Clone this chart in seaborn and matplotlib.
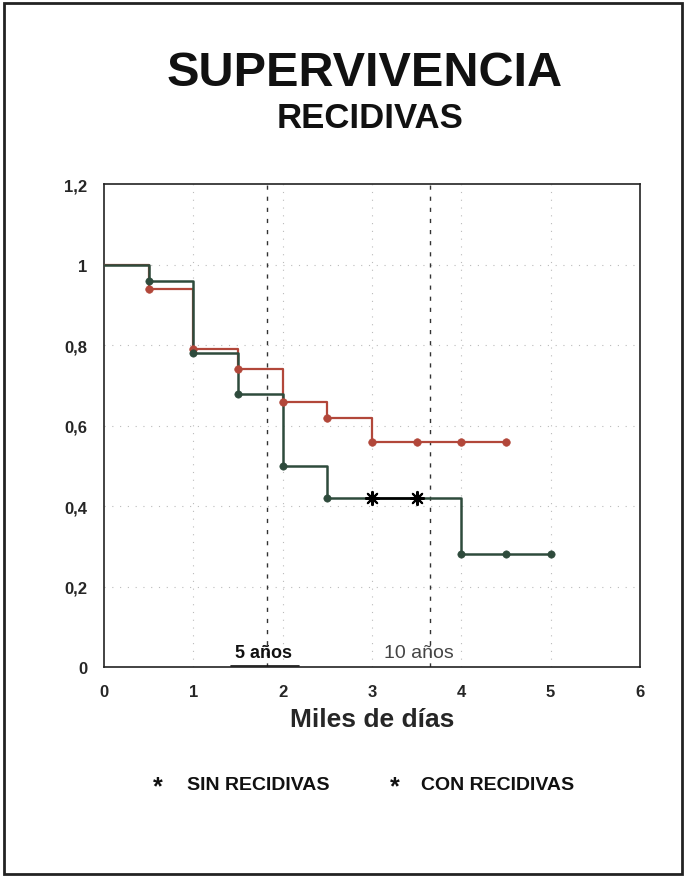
import matplotlib
matplotlib.use("Agg")
import matplotlib.pyplot as plt
import seaborn as sns
import pandas as pd
from matplotlib.patches import Rectangle

sns.set_style("white")
plt.rcParams['font.family'] = ['Liberation Sans', 'DejaVu Sans']

# Data
sin_x = [0, 0.5, 1.0, 1.5, 2.0, 2.5, 3.0, 3.5, 4.0, 4.5]
sin_y = [1.0, 0.94, 0.79, 0.74, 0.66, 0.62, 0.56, 0.56, 0.56, 0.56]
con_x = [0, 0.5, 1.0, 1.5, 2.0, 2.5, 3.0, 3.5, 4.0, 4.5, 5.0]
con_y = [1.0, 0.96, 0.78, 0.68, 0.50, 0.42, 0.42, 0.42, 0.28, 0.28, 0.28]
censored_x = [3.0, 3.5]
censored_y = [0.42, 0.42]
x_ticks = [0, 1, 2, 3, 4, 5, 6]
y_ticks = [0, 0.2, 0.4, 0.6, 0.8, 1.0, 1.2]
y_labels = ["0", "0,2", "0,4", "0,6", "0,8", "1", "1,2"]
series_names = ["SIN RECIDIVAS", "CON RECIDIVAS"]
mark_5 = 1.826
mark_10 = 3.652

red = "#b2473a"
green = "#2e4b3c"

df_sin = pd.DataFrame({"x": sin_x, "y": sin_y})
df_con = pd.DataFrame({"x": con_x, "y": con_y})

fig = plt.figure(figsize=(6.85, 8.78), dpi=100)
ax = fig.add_axes([0.152, 0.239, 0.782, 0.550])

# grid
for xv in x_ticks[1:-1]:
    ax.axvline(xv, color="#bbbbbb", lw=0.8, ls=(0, (1, 6)), zorder=0)
for yv in y_ticks[1:-1]:
    ax.axhline(yv, color="#bbbbbb", lw=0.8, ls=(0, (1, 6)), zorder=0)
ax.axvline(mark_5, color="#333333", lw=1.0, ls=(0, (3, 5)), zorder=1)
ax.axvline(mark_10, color="#333333", lw=1.0, ls=(0, (3, 5)), zorder=1)

sns.lineplot(data=df_sin, x="x", y="y", ax=ax, color=red, lw=1.6,
             drawstyle="steps-post", estimator=None, sort=False, zorder=3)
sns.lineplot(data=df_con, x="x", y="y", ax=ax, color=green, lw=1.8,
             drawstyle="steps-post", estimator=None, sort=False, zorder=4)
sns.scatterplot(data=df_sin.iloc[1:], x="x", y="y", ax=ax, color=red,
                s=30, marker="o", edgecolor=red, zorder=5)
sns.scatterplot(data=df_con.iloc[1:], x="x", y="y", ax=ax, color=green,
                s=28, marker="o", edgecolor=green, zorder=6)
ax.plot(censored_x, censored_y, color="black", lw=1.8, zorder=7)
ax.scatter(censored_x, censored_y, marker=(8, 2, 0), s=90, color="black",
           linewidths=1.5, zorder=8)

ax.set_xlim(0, 6)
ax.set_ylim(0, 1.2)
ax.set_xticks(x_ticks)
ax.set_xticklabels([str(v) for v in x_ticks], fontsize=12, fontweight="bold")
ax.set_yticks(y_ticks)
ax.set_yticklabels(y_labels, fontsize=12, fontweight="bold")
ax.tick_params(axis="both", length=0, pad=12)
ax.set_xlabel("Miles de días", fontsize=19, fontweight="bold", labelpad=6)
ax.set_ylabel("")
for sp in ax.spines.values():
    sp.set_color("#222222")
    sp.set_linewidth(1.2)

ax.text(1.78, 0.015, "5 años", fontsize=13, fontweight="bold",
        ha="center", va="bottom", color="#111111")
ax.plot([1.42, 2.18], [0.004, 0.004], color="#111111", lw=1.2, clip_on=False)
ax.text(3.53, 0.015, "10 años", fontsize=14, fontweight="normal",
        ha="center", va="bottom", color="#444444")

fig.text(0.532, 0.916, "SUPERVIVENCIA", fontsize=35, fontweight="bold",
         ha="center", va="center", color="#111111")
fig.text(0.540, 0.865, "RECIDIVAS", fontsize=25, fontweight="bold",
         ha="center", va="center", color="#111111")

# legend (manual placement)
leg_y = 1 - 785 / 878
for name, xs, xt in zip(series_names, [158 / 685, 395 / 685], [187 / 685, 421 / 685]):
    fig.text(xs, leg_y - 0.003, "*", fontsize=18, fontweight="bold",
             ha="center", va="center", color="#111111")
    fig.text(xt, leg_y, name, fontsize=14, fontweight="bold",
             ha="left", va="center", color="#111111")

fig.patches.append(Rectangle((0.006, 0.003), 0.99, 0.993, transform=fig.transFigure,
                             fill=False, edgecolor="#222222", lw=2.0))

fig.savefig("out.png", dpi=100)
